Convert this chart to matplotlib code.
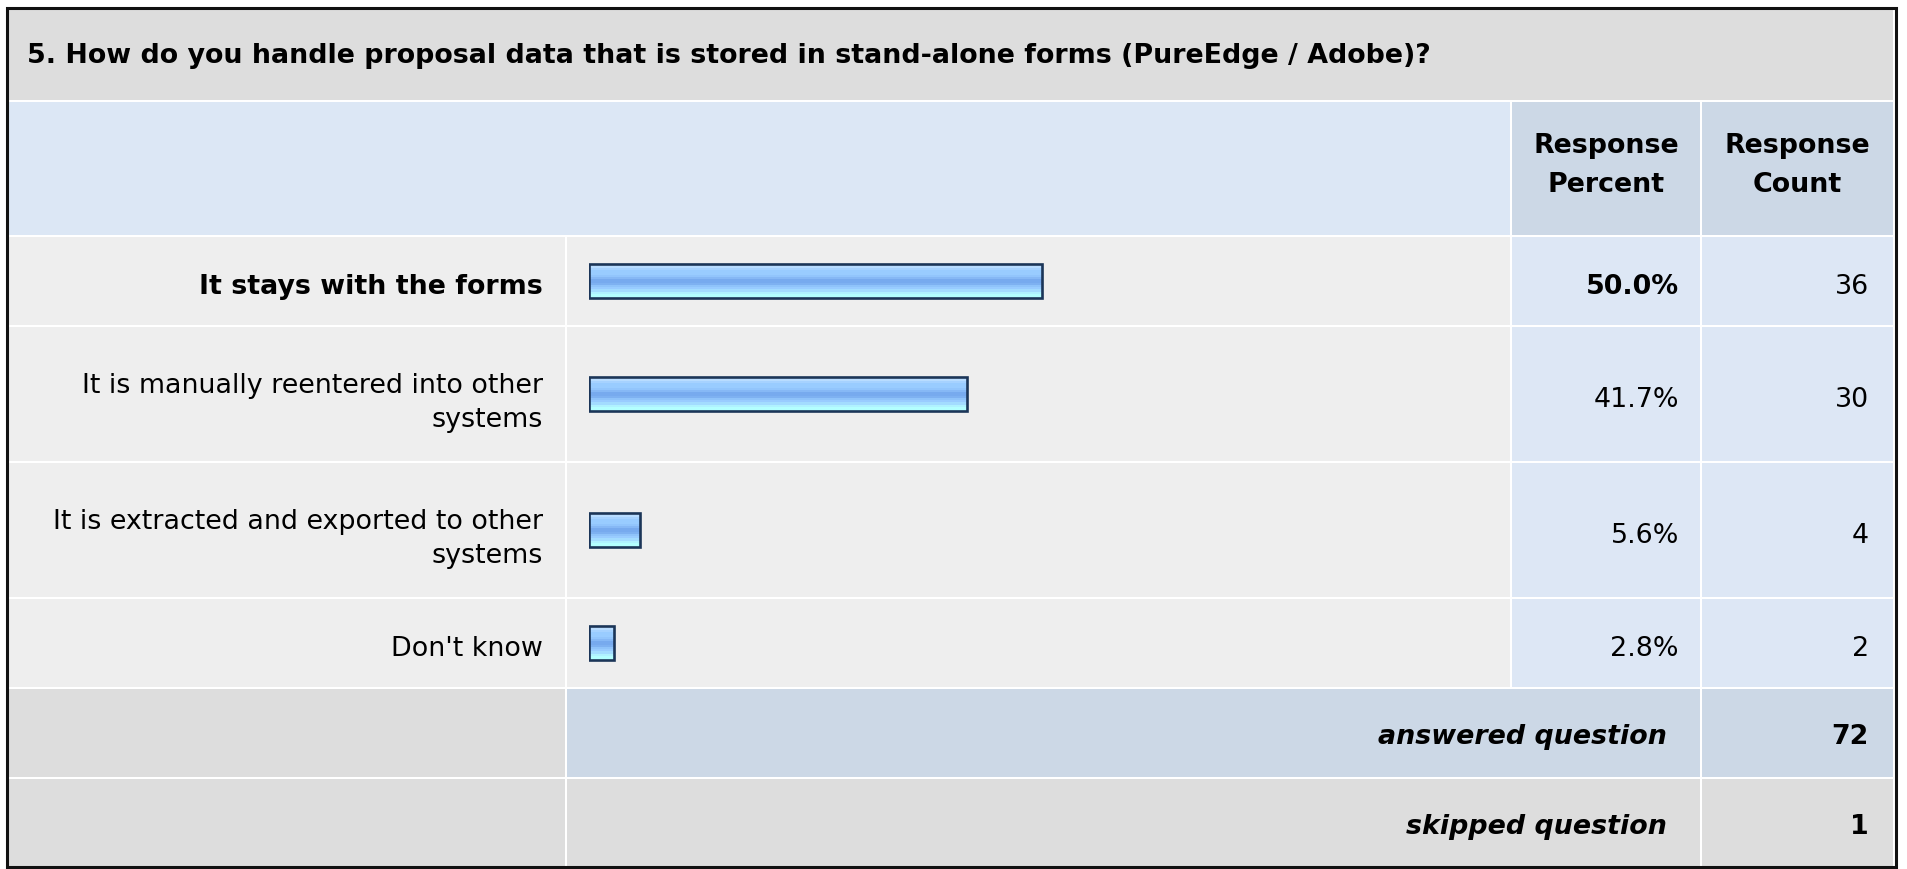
import matplotlib
matplotlib.use("Agg")
import matplotlib.pyplot as plt
from matplotlib.patches import Rectangle
from matplotlib.colors import to_rgb
import numpy as np

# ---------------- data ----------------
title = "5. How do you handle proposal data that is stored in stand-alone forms (PureEdge / Adobe)?"
categories = [
    "It stays with the forms",
    "It is manually reentered into other\nsystems",
    "It is extracted and exported to other\nsystems",
    "Don't know",
]
percents = [50.0, 41.7, 5.6, 2.8]
counts = [36, 30, 4, 2]
header_percent = "Response\nPercent"
header_count = "Response\nCount"
answered_label = "answered question"
answered_count = 72
skipped_label = "skipped question"
skipped_count = 1

# ---------------- layout ----------------
W, H = 1907, 869
plt.rcParams['font.family'] = ['DejaVu Sans']
FS = 19.4  # ~27 px

fig = plt.figure(figsize=(W / 100, H / 100), dpi=100)
fig.patch.set_facecolor('white')
ax = fig.add_axes([0, 0, 1, 1])
ax.set_xlim(0, W)
ax.set_ylim(H, 0)
ax.axis('off')

cols = [(9, 565), (567, 1510), (1512, 1700), (1702, 1893)]
title_row = (10, 100)
header_row = (102, 235)
data_rows = [(237, 325), (327, 461), (463, 597), (599, 687)]
answered_row = (689, 777)
skipped_row = (779, 866)

GRAY = '#dddddd'
LIGHT = '#eeeeee'
HEAD_BLUE = '#dce7f5'
DARK_BLUE = '#ccd8e6'
DATA_BLUE = '#dde7f5'
TXT = '#000000'


def cell(x0, x1, y0, y1, color):
    ax.add_patch(Rectangle((x0, y0), x1 - x0, y1 - y0, facecolor=color,
                           edgecolor='none', zorder=1))


# outer frame
ax.add_patch(Rectangle((6.5, 7.5), 1889, 859.5, facecolor='none',
                       edgecolor='#111111', linewidth=2.2, zorder=5))

# title row
cell(cols[0][0], cols[3][1], *title_row, GRAY)
ax.text(27, (title_row[0] + title_row[1]) / 2 + 1, title, fontsize=FS,
        fontweight='bold', ha='left', va='center', color=TXT, zorder=3)

# header row
cell(cols[0][0], cols[1][1], *header_row, HEAD_BLUE)
cell(*cols[2], *header_row, DARK_BLUE)
cell(*cols[3], *header_row, DARK_BLUE)
hy = (header_row[0] + header_row[1]) / 2 - 3
ax.text((cols[2][0] + cols[2][1]) / 2, hy, header_percent, fontsize=FS,
        fontweight='bold', ha='center', va='center', linespacing=1.62,
        color=TXT, zorder=3)
ax.text((cols[3][0] + cols[3][1]) / 2, hy, header_count, fontsize=FS,
        fontweight='bold', ha='center', va='center', linespacing=1.62,
        color=TXT, zorder=3)

# data rows
top = max(percents)
centers = []
for lab, p, c, (y0, y1) in zip(categories, percents, counts, data_rows):
    cell(*cols[0], y0, y1, LIGHT)
    cell(*cols[1], y0, y1, LIGHT)
    cell(*cols[2], y0, y1, DATA_BLUE)
    cell(*cols[3], y0, y1, DATA_BLUE)
    yc = (y0 + y1) / 2
    centers.append(yc)
    w = 'bold' if p == top else 'normal'
    lab_off = 9 if '\n' in lab else 6
    ax.text(543, yc + lab_off, lab, fontsize=FS, fontweight=w, ha='right',
            va='center', linespacing=1.43, color=TXT, zorder=3)
    ax.text(1679, yc + 6, f"{p:.1f}%", fontsize=FS, fontweight=w,
            ha='right', va='center', color=TXT, zorder=3)
    ax.text(1869, yc + 6, f"{c}", fontsize=FS, ha='right', va='center',
            color=TXT, zorder=3)

# answered row
cell(*cols[0], *answered_row, GRAY)
cell(cols[1][0], cols[2][1], *answered_row, DARK_BLUE)
cell(*cols[3], *answered_row, DARK_BLUE)
ay = (answered_row[0] + answered_row[1]) / 2 + 4
ax.text(1667, ay, answered_label, fontsize=FS, fontweight='bold',
        fontstyle='italic', ha='right', va='center', color=TXT, zorder=3)
ax.text(1869, ay, f"{answered_count}", fontsize=FS, fontweight='bold',
        ha='right', va='center', color=TXT, zorder=3)

# skipped row
cell(*cols[0], *skipped_row, GRAY)
cell(cols[1][0], cols[2][1], *skipped_row, GRAY)
cell(*cols[3], *skipped_row, GRAY)
sy = (skipped_row[0] + skipped_row[1]) / 2 + 4
ax.text(1667, sy, skipped_label, fontsize=FS, fontweight='bold',
        fontstyle='italic', ha='right', va='center', color=TXT, zorder=3)
ax.text(1869, sy, f"{skipped_count}", fontsize=FS, fontweight='bold',
        ha='right', va='center', color=TXT, zorder=3)

# ---------------- bars (percent scale) ----------------
bx = fig.add_axes([589 / W, 0, 906 / W, 1])
bx.patch.set_alpha(0)
bx.axis('off')

stripes = ['#cfe8ff', '#b8dcff', '#a6d2ff', '#99ccff', '#99ccff', '#92c5fc',
           '#86b8f5', '#77aaee', '#77aaee', '#7eb1f1', '#8fc3fa', '#99ccff',
           '#a3dcff', '#b0f2ff', '#b3ffff', '#b3ffff']
grad = np.array([to_rgb(s) for s in stripes])[:, None, :]

BAR_H = 34
bars = bx.barh(centers, percents, height=BAR_H, left=0, facecolor='none',
               edgecolor='#1b3558', linewidth=1.9, zorder=3)
for rect, p, yc in zip(bars, percents, centers):
    im = bx.imshow(grad, extent=(0, p, yc + BAR_H / 2, yc - BAR_H / 2),
                   aspect='auto', interpolation='nearest', zorder=2)
    im.set_clip_path(rect)
bx.set_xlim(0, 100)
bx.set_ylim(H, 0)

fig.savefig('out.png', dpi=100, facecolor='white')
